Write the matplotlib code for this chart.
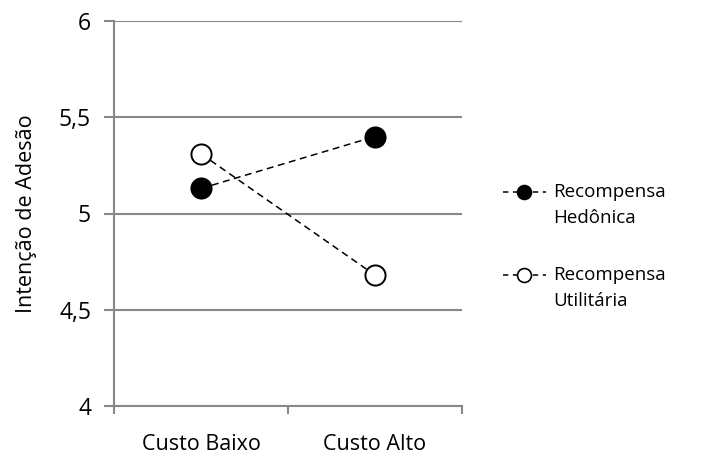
import numpy as np
import matplotlib.pyplot as plt
from matplotlib.lines import Line2D
from matplotlib.ticker import FuncFormatter

plt.rcParams['font.family'] = ['Open Sans', 'DejaVu Sans']

categories = ['Custo Baixo', 'Custo Alto']
hedonica = [5.13, 5.40]
utilitaria = [5.31, 4.68]
series_names = ['Recompensa\nHedônica', 'Recompensa\nUtilitária']
fills = ['black', 'white']

W, H = 707, 459
fig = plt.figure(figsize=(W / 100, H / 100), dpi=100)
ax = fig.add_axes([114/W, 1 - 406/H, 348/W, 385/H])

x = np.arange(len(categories)) + 0.5
grid_c = '#878787'

for vals, fc, name in zip([hedonica, utilitaria], fills, series_names):
    ax.plot(x, vals, color='black', lw=1.1, dashes=(4.5, 3),
            marker='o', ms=14.5, mfc=fc, mec='black', mew=1.4, label=name)

ax.set_xlim(0, 2)
ax.set_ylim(4, 6)
ax.set_yticks([4, 4.5, 5, 5.5, 6])
ax.yaxis.set_major_formatter(FuncFormatter(lambda v, p: f'{v:g}'.replace('.', ',')))
ax.set_xticks([0, 1, 2])
ax.set_xticklabels([])
ax.set_xticks(x, minor=True)
ax.set_xticklabels(categories, minor=True)
ax.tick_params(axis='x', which='minor', length=0, pad=20, labelsize=15.5)
ax.tick_params(axis='x', which='major', length=6, color=grid_c, width=1.5)
ax.tick_params(axis='y', length=7.5, color=grid_c, width=1.5, labelsize=16.5, pad=9)

ax.grid(axis='y', color=grid_c, lw=1.5)
ax.set_axisbelow(True)
for s in ['top', 'right']:
    ax.spines[s].set_visible(False)
for s in ['left', 'bottom']:
    ax.spines[s].set_color(grid_c)
    ax.spines[s].set_linewidth(1.5)

ax.set_ylabel('Intenção de Adesão', fontsize=15.5, labelpad=16)

# legend drawn by hand so the handle sits on the first text line
for i, (fc, name) in enumerate(zip(fills, series_names)):
    yc = 1 - (192 + 83 * i) / H
    fig.add_artist(Line2D([503/W, 546/W], [yc, yc], transform=fig.transFigure,
                          color='black', lw=1.1, dashes=(3.5, 3)))
    fig.add_artist(Line2D([524/W], [yc], transform=fig.transFigure,
                          marker='o', ms=10, mfc=fc, mec='black', mew=1.2))
    fig.text(553/W, yc + 9/H, name, fontsize=13.5, va='top', ha='left',
             linespacing=1.55)

fig.savefig('out.png', dpi=100)
